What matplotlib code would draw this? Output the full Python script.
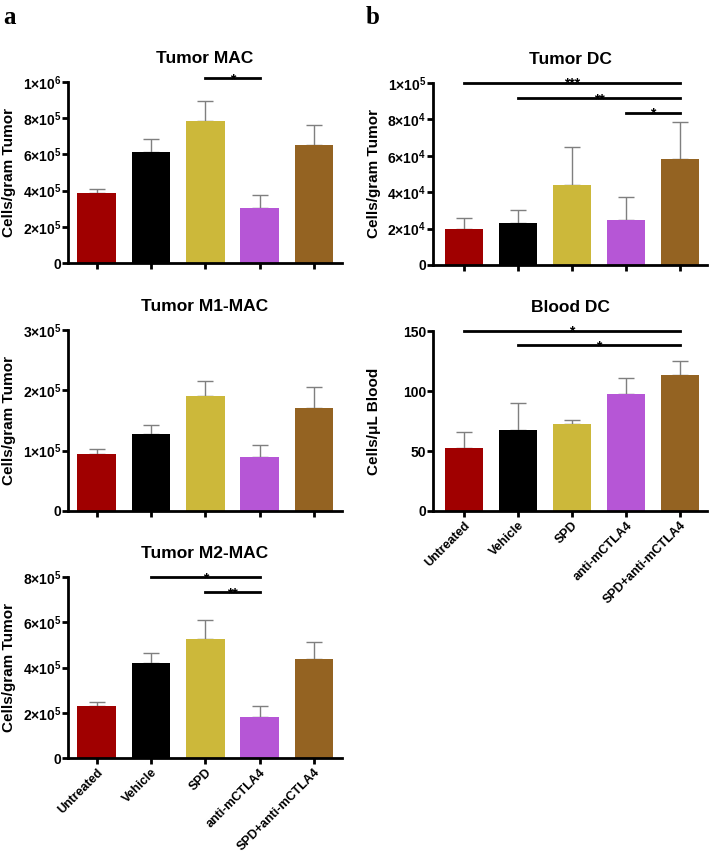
import matplotlib
matplotlib.use("Agg")
import matplotlib.pyplot as plt
from matplotlib.ticker import FuncFormatter

plt.rcParams['font.family'] = ['Liberation Sans', 'DejaVu Sans']
plt.rcParams['font.weight'] = 'bold'
plt.rcParams['mathtext.fontset'] = 'custom'
plt.rcParams['mathtext.rm'] = 'Liberation Sans:bold'
plt.rcParams['mathtext.it'] = 'Liberation Sans:bold'
plt.rcParams['mathtext.bf'] = 'Liberation Sans:bold'

groups = ['Untreated', 'Vehicle', 'SPD', 'anti-mCTLA4', 'SPD+anti-mCTLA4']
colors = ['#a00000', '#000000', '#ccb83a', '#b656d6', '#946322']

mac_mean = [3.85e5, 6.15e5, 7.85e5, 3.05e5, 6.5e5]
mac_err = [0.24e5, 0.68e5, 1.10e5, 0.69e5, 1.12e5]
m1_mean = [0.95e5, 1.27e5, 1.90e5, 0.90e5, 1.71e5]
m1_err = [0.08e5, 0.15e5, 0.25e5, 0.19e5, 0.35e5]
m2_mean = [2.28e5, 4.20e5, 5.26e5, 1.83e5, 4.39e5]
m2_err = [0.19e5, 0.45e5, 0.82e5, 0.47e5, 0.72e5]
tdc_mean = [1.96e4, 2.30e4, 4.40e4, 2.46e4, 5.83e4]
tdc_err = [0.61e4, 0.71e4, 2.08e4, 1.30e4, 2.00e4]
bdc_mean = [52.2, 67.8, 72.2, 97.5, 113.6]
bdc_err = [13.9, 22.2, 3.9, 13.5, 11.7]

# significance brackets: (i, j, y, label)
mac_sig = [(2, 3, 1.02e6, '*')]
m2_sig = [(1, 3, 7.98e5, '*'), (2, 3, 7.33e5, '**')]
tdc_sig = [(0, 4, 1.0e5, '***'), (1, 4, 0.915e5, '**'), (3, 4, 0.835e5, '*')]
bdc_sig = [(0, 4, 150, '*'), (1, 4, 138, '*')]


def sci(v, pos):
    if v == 0:
        return '0'
    e = len(str(int(v))) - 1
    m = int(round(v / 10 ** e))
    return f'{m}$\\mathregular{{\\times}}$10$^{{{e}}}$'


def plain(v, pos):
    return f'{int(v)}'


W, H = 709, 852
fig = plt.figure(figsize=(W / 100, H / 100), dpi=100)


def panel(rect, title, mean, err, sig, ylim, yticks, ylabel, fmt, xlim, labels):
    l, t, r, b = rect
    ax = fig.add_axes([l / W, 1 - b / H, (r - l) / W, (b - t) / H])
    x = range(len(groups))
    ax.errorbar(x, mean, yerr=[[0] * len(err), err], fmt='none', ecolor='#7f7f7f',
                elinewidth=1, capsize=5.5, capthick=1, zorder=1)
    ax.bar(x, mean, width=0.71, color=colors, zorder=2)
    for i, j, y, s in sig:
        ax.plot([i, j], [y, y], color='black', lw=2, clip_on=False, zorder=3)
        ax.annotate(s, ((i + j) / 2, y), xytext=(0, -3.5), textcoords='offset points',
                    ha='center', va='baseline', fontsize=10, annotation_clip=False)
    ax.set_xlim(*xlim)
    ax.set_ylim(*ylim)
    ax.set_yticks(yticks)
    ax.yaxis.set_major_formatter(FuncFormatter(fmt))
    ax.set_xticks(list(x))
    for s in ['top', 'right']:
        ax.spines[s].set_visible(False)
    for s in ['left', 'bottom']:
        ax.spines[s].set_linewidth(2)
    ax.tick_params(width=2, length=4)
    ax.tick_params(axis='y', labelsize=10, pad=1)
    ax.tick_params(axis='x', pad=2)
    if labels:
        ax.set_xticklabels(groups, rotation=45, ha='right', rotation_mode='anchor',
                           fontsize=9, fontweight='bold')
    else:
        ax.set_xticklabels([])
    ax.set_title(title, fontsize=12.5, fontweight='bold', pad=14)
    ax.set_ylabel(ylabel, fontsize=11, fontweight='bold')
    ax.yaxis.set_label_coords(-0.19, 0.5)
    return ax


xa = (-0.53, 4.52)
xb = (-0.57, 4.5)
panel((68, 82, 342, 263), 'Tumor MAC', mac_mean, mac_err, mac_sig, (0, 1e6),
      [0, 2e5, 4e5, 6e5, 8e5, 1e6], 'Cells/gram Tumor', sci, xa, False)
panel((68, 330, 342, 511), 'Tumor M1-MAC', m1_mean, m1_err, [], (0, 3e5),
      [0, 1e5, 2e5, 3e5], 'Cells/gram Tumor', sci, xa, False)
panel((68, 577, 342, 758), 'Tumor M2-MAC', m2_mean, m2_err, m2_sig, (0, 8e5),
      [0, 2e5, 4e5, 6e5, 8e5], 'Cells/gram Tumor', sci, xa, True)
panel((433, 83, 707, 265), 'Tumor DC', tdc_mean, tdc_err, tdc_sig, (0, 1e5),
      [0, 2e4, 4e4, 6e4, 8e4, 1e5], 'Cells/gram Tumor', sci, xb, False)
panel((433, 331, 707, 511), 'Blood DC', bdc_mean, bdc_err, bdc_sig, (0, 150),
      [0, 50, 100, 150], 'Cells/\u03bcL Blood', plain, xb, True)

fig.text(3 / W, 1 - 24 / H, 'a', family='Liberation Serif', fontweight='bold', fontsize=18)
fig.text(366 / W, 1 - 24 / H, 'b', family='Liberation Serif', fontweight='bold', fontsize=18)

fig.savefig('out.png', dpi=100)
